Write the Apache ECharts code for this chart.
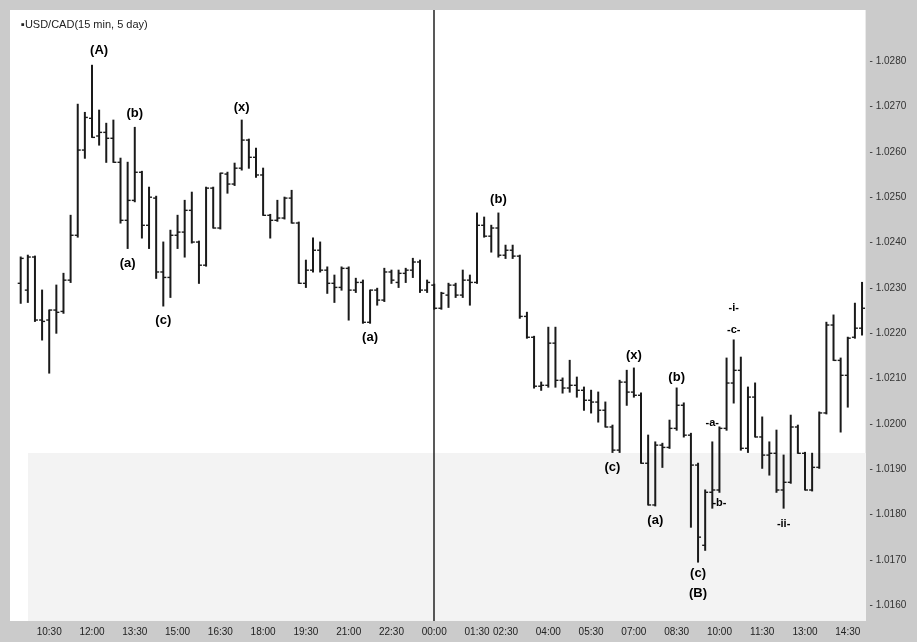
<!DOCTYPE html>
<html>
<head>
<meta charset="utf-8">
<script src="https://cdn.jsdelivr.net/npm/echarts/dist/echarts.min.js"></script>
<style>
html,body{margin:0;padding:0;background:#cbcbcb;}
#chart{width:917px;height:642px;}
</style>
</head>
<body>
<div id="chart"></div>
<script>
// ---- categories (15-minute bars over two sessions) ----
var day1Times = ["09:15","09:30","09:45","10:00","10:15","10:30","10:45","11:00","11:15","11:30","11:45","12:00","12:15","12:30","12:45","13:00","13:15","13:30","13:45","14:00","14:15","14:30","14:45","15:00","15:15","15:30","15:45","16:00","16:15","16:30","16:45","17:00","17:15","17:30","17:45","18:00","18:15","18:30","18:45","19:00","19:15","19:30","19:45","20:00","20:15","20:30","20:45","21:00","21:15","21:30","21:45","22:00","22:15","22:30","22:45","23:00","23:15","23:30","23:45"];
var day2Times = ["00:00","00:15","00:30","00:45","01:00","01:15","01:30","01:45","02:00","02:15","02:30","02:45","03:00","03:15","03:30","03:45","04:00","04:15","04:30","04:45","05:00","05:15","05:30","05:45","06:00","06:15","06:30","06:45","07:00","07:15","07:30","07:45","08:00","08:15","08:30","08:45","09:00","09:15","09:30","09:45","10:00","10:15","10:30","10:45","11:00","11:15","11:30","11:45","12:00","12:15","12:30","12:45","13:00","13:15","13:30","13:45","14:00","14:15","14:30","14:45","15:00"];

// ---- OHLC values (first bar = 09:30, day 1) ----
var barOpen = [1.02310,1.02295,1.02368,1.02229,1.02229,1.02251,1.02248,1.02317,1.02416,1.02604,1.02674,1.02635,1.02643,1.02630,1.02577,1.02449,1.02493,1.02555,1.02438,1.02498,1.02335,1.02323,1.02416,1.02423,1.02471,1.02401,1.02350,1.02520,1.02432,1.02551,1.02529,1.02564,1.02626,1.02588,1.02549,1.02460,1.02449,1.02454,1.02498,1.02443,1.02310,1.02339,1.02383,1.02339,1.02310,1.02301,1.02343,1.02295,1.02312,1.02224,1.02295,1.02273,1.02335,1.02312,1.02332,1.02339,1.02357,1.02295,1.02306,1.02255,1.02284,1.02306,1.02284,1.02317,1.02312,1.02438,1.02414,1.02432,1.02372,1.02383,1.02370,1.02237,1.02191,1.02083,1.02085,1.02178,1.02096,1.02079,1.02085,1.02074,1.02052,1.02048,1.02030,1.01993,1.01942,1.02092,1.02070,1.02063,1.01913,1.01821,1.01953,1.01948,1.01990,1.02041,1.01975,1.01909,1.01732,1.01849,1.01854,1.01990,1.02090,1.02118,1.01946,1.02059,1.01971,1.01931,1.01935,1.01854,1.01871,1.01993,1.01935,1.01854,1.01904,1.02024,1.02218,1.02140,1.02107,1.02191,1.02211];
var barHigh = [1.02368,1.02372,1.02370,1.02295,1.02251,1.02306,1.02332,1.02460,1.02705,1.02687,1.02791,1.02692,1.02663,1.02670,1.02586,1.02577,1.02654,1.02557,1.02522,1.02502,1.02401,1.02427,1.02460,1.02493,1.02511,1.02403,1.02522,1.02522,1.02553,1.02555,1.02575,1.02670,1.02628,1.02608,1.02564,1.02462,1.02493,1.02500,1.02515,1.02445,1.02361,1.02410,1.02401,1.02346,1.02328,1.02346,1.02346,1.02321,1.02317,1.02295,1.02299,1.02343,1.02339,1.02339,1.02343,1.02365,1.02361,1.02317,1.02308,1.02290,1.02310,1.02310,1.02339,1.02328,1.02465,1.02456,1.02438,1.02465,1.02394,1.02394,1.02372,1.02246,1.02193,1.02092,1.02213,1.02213,1.02101,1.02140,1.02103,1.02081,1.02074,1.02070,1.02048,1.01997,1.02096,1.02118,1.02123,1.02068,1.01975,1.01960,1.01957,1.02008,1.02079,1.02046,1.01979,1.01913,1.01854,1.01960,1.01993,1.02145,1.02185,1.02147,1.02081,1.02090,1.02015,1.01960,1.01986,1.01931,1.02019,1.01997,1.01937,1.01935,1.02026,1.02224,1.02240,1.02145,1.02191,1.02266,1.02312];
var barLow = [1.02266,1.02268,1.02226,1.02185,1.02112,1.02200,1.02244,1.02312,1.02412,1.02586,1.02632,1.02615,1.02577,1.02577,1.02443,1.02387,1.02490,1.02410,1.02387,1.02321,1.02260,1.02279,1.02387,1.02368,1.02399,1.02310,1.02348,1.02432,1.02430,1.02509,1.02526,1.02560,1.02564,1.02544,1.02460,1.02410,1.02447,1.02452,1.02443,1.02310,1.02301,1.02335,1.02335,1.02288,1.02268,1.02295,1.02229,1.02290,1.02222,1.02222,1.02262,1.02270,1.02310,1.02301,1.02312,1.02323,1.02290,1.02290,1.02253,1.02253,1.02257,1.02279,1.02279,1.02262,1.02310,1.02412,1.02379,1.02368,1.02365,1.02365,1.02233,1.02189,1.02079,1.02074,1.02081,1.02081,1.02068,1.02070,1.02059,1.02030,1.02024,1.02004,1.01993,1.01937,1.01937,1.02041,1.02059,1.01913,1.01821,1.01819,1.01904,1.01946,1.01986,1.01971,1.01772,1.01695,1.01721,1.01814,1.01849,1.01986,1.02046,1.01942,1.01937,1.01971,1.01902,1.01887,1.01849,1.01814,1.01869,1.01935,1.01854,1.01852,1.01902,1.02022,1.02140,1.01982,1.02037,1.02189,1.02196];
var barClose = [1.02365,1.02368,1.02229,1.02226,1.02251,1.02246,1.02317,1.02416,1.02604,1.02676,1.02632,1.02643,1.02630,1.02577,1.02449,1.02493,1.02555,1.02438,1.02500,1.02335,1.02323,1.02416,1.02423,1.02471,1.02401,1.02350,1.02520,1.02432,1.02553,1.02529,1.02564,1.02626,1.02588,1.02549,1.02460,1.02449,1.02454,1.02498,1.02443,1.02310,1.02339,1.02383,1.02339,1.02310,1.02301,1.02343,1.02295,1.02312,1.02224,1.02295,1.02273,1.02335,1.02317,1.02332,1.02339,1.02357,1.02295,1.02312,1.02255,1.02288,1.02306,1.02284,1.02317,1.02312,1.02438,1.02414,1.02432,1.02372,1.02383,1.02370,1.02237,1.02191,1.02083,1.02085,1.02178,1.02096,1.02079,1.02085,1.02074,1.02052,1.02048,1.02030,1.01993,1.01942,1.02092,1.02070,1.02063,1.01913,1.01821,1.01953,1.01948,1.01990,1.02041,1.01975,1.01909,1.01750,1.01849,1.01854,1.01990,1.02090,1.02118,1.01946,1.02059,1.01971,1.01931,1.01935,1.01854,1.01871,1.01993,1.01935,1.01854,1.01904,1.02024,1.02218,1.02140,1.02107,1.02189,1.02211,1.02255];

// ---- axis tick labels ----
var xTickLabels = ["1|10:30","1|12:00","1|13:30","1|15:00","1|16:30","1|18:00","1|19:30","1|21:00","1|22:30","2|00:00","2|01:30","2|02:30","2|04:00","2|05:30","2|07:00","2|08:30","2|10:00","2|11:30","2|13:00","2|14:30"];
var yTickValues = [1.0160,1.0170,1.0180,1.0190,1.0200,1.0210,1.0220,1.0230,1.0240,1.0250,1.0260,1.0270,1.0280];
var sessionBreak = "2|00:00";

// ---- wave annotations ----
var waveLabels = [
  {text:"(A)", at:"1|12:15", price:1.02824},
  {text:"(b)", at:"1|13:30", price:1.02685},
  {text:"(a)", at:"1|13:15", price:1.02354},
  {text:"(c)", at:"1|14:30", price:1.02229},
  {text:"(x)", at:"1|17:15", price:1.02699},
  {text:"(a)", at:"1|21:45", price:1.02191},
  {text:"(b)", at:"2|02:15", price:1.02496},
  {text:"(x)", at:"2|07:00", price:1.02151},
  {text:"(c)", at:"2|06:15", price:1.01904},
  {text:"(b)", at:"2|08:30", price:1.02103},
  {text:"(a)", at:"2|07:45", price:1.01787},
  {text:"(c)", at:"2|09:15", price:1.01671},
  {text:"(B)", at:"2|09:15", price:1.01626}
];
var subLabels = [
  {text:"-a-", at:"2|09:45", price:1.02001},
  {text:"-b-", at:"2|10:00", price:1.01825},
  {text:"-i-", at:"2|10:30", price:1.02255},
  {text:"-c-", at:"2|10:30", price:1.02207},
  {text:"-ii-", at:"2|12:15", price:1.01779}
];

var categories = day1Times.map(function(t){return "1|"+t;}).concat(day2Times.map(function(t){return "2|"+t;}));
var ohlcData = [];
for (var i = 0; i < barOpen.length; i++) {
  ohlcData.push([categories[i+1], barOpen[i], barHigh[i], barLow[i], barClose[i]]);
}
var tickSet = {};
xTickLabels.forEach(function(k){ tickSet[k] = true; });
function showTick(idx, val){ return !!tickSet[val]; }

var chart = echarts.init(document.getElementById('chart'), null, {renderer:'canvas'});
var FONT = 'Arial, "Liberation Sans", sans-serif';
var barColor = '#1a1a1a';

function labelSeries(list, size) {
  return {
    type: 'scatter',
    data: list.map(function(a){ return {value:[a.at, a.price], name:a.text}; }),
    symbolSize: 1,
    itemStyle: {color: '#ffffff', opacity: 1},
    silent: true,
    label: {
      show: true, position: 'inside',
      formatter: function(p){ return p.name; },
      fontSize: size, fontWeight: 'bold', color: '#000000', opacity: 1, fontFamily: FONT
    },
    emphasis: {disabled: true},
    labelLayout: {hideOverlap: false},
    z: 8
  };
}

chart.setOption({
  backgroundColor: '#cbcbcb',
  animation: false,
  title: {
    text: '\u25AAUSD/CAD(15 min, 5 day)',
    left: 16, top: 14,
    textStyle: {fontSize: 11, fontWeight: 'normal', color: '#222', fontFamily: FONT}
  },
  graphic: [
    {type:'rect', z: 1, shape:{x:28, y:453, width:838, height:168}, style:{fill:'#f3f3f3'}, silent:true}
  ],
  grid: {
    left: 10, top: 10, right: 51.4, bottom: 21,
    show: true, backgroundColor: '#ffffff', borderWidth: 0,
    containLabel: false
  },
  xAxis: {
    type: 'category',
    data: categories,
    boundaryGap: true,
    axisLine: {show: false},
    axisTick: {show: true, inside: true, length: 4, interval: showTick, alignWithLabel: true, lineStyle:{color:'#444'}},
    axisLabel: {
      interval: showTick,
      formatter: function(v){ return v.split('|')[1]; },
      fontSize: 10, color: '#222', fontFamily: FONT, margin: 6
    },
    splitLine: {show: false}
  },
  yAxis: {
    type: 'value',
    position: 'right',
    min: 1.01565, max: 1.02913,
    splitNumber: 13,
    scale: true,
    axisLine: {show: false},
    axisTick: {show: false},
    splitLine: {show: false},
    axisLabel: {
      margin: 4,
      fontSize: 10, color: '#333', fontFamily: FONT,
      formatter: function(v){
        for (var k = 0; k < yTickValues.length; k++) {
          if (Math.abs(v - yTickValues[k]) < 1e-7) return '- ' + yTickValues[k].toFixed(4);
        }
        return '';
      }
    }
  },
  series: [
    {
      type: 'custom',
      name: 'USD/CAD',
      data: ohlcData,
      encode: {x: 0, y: [1,2,3,4]},
      renderItem: function(params, api) {
        var x = api.value(0);
        var o = api.coord([x, api.value(1)]);
        var h = api.coord([x, api.value(2)]);
        var l = api.coord([x, api.value(3)]);
        var c = api.coord([x, api.value(4)]);
        var w = 3;
        return {type:'group', children:[
          {type:'line', shape:{x1:h[0], y1:h[1]-0.5, x2:l[0], y2:l[1]+0.5}, style: {stroke: barColor, lineWidth: 2}},
          {type:'line', shape:{x1:o[0]-w, y1:o[1], x2:o[0], y2:o[1]}, style: {stroke: barColor, lineWidth: 1.4}},
          {type:'line', shape:{x1:c[0], y1:c[1], x2:c[0]+w, y2:c[1]}, style: {stroke: barColor, lineWidth: 1.4}}
        ]};
      },
      markLine: {
        silent: true, symbol: 'none',
        label: {show: false},
        lineStyle: {color: '#222', width: 1.5, type: 'solid'},
        data: [{xAxis: sessionBreak}]
      },
      z: 5
    },
    labelSeries(waveLabels, 13),
    labelSeries(subLabels, 11)
  ]
});
</script>
</body>
</html>
